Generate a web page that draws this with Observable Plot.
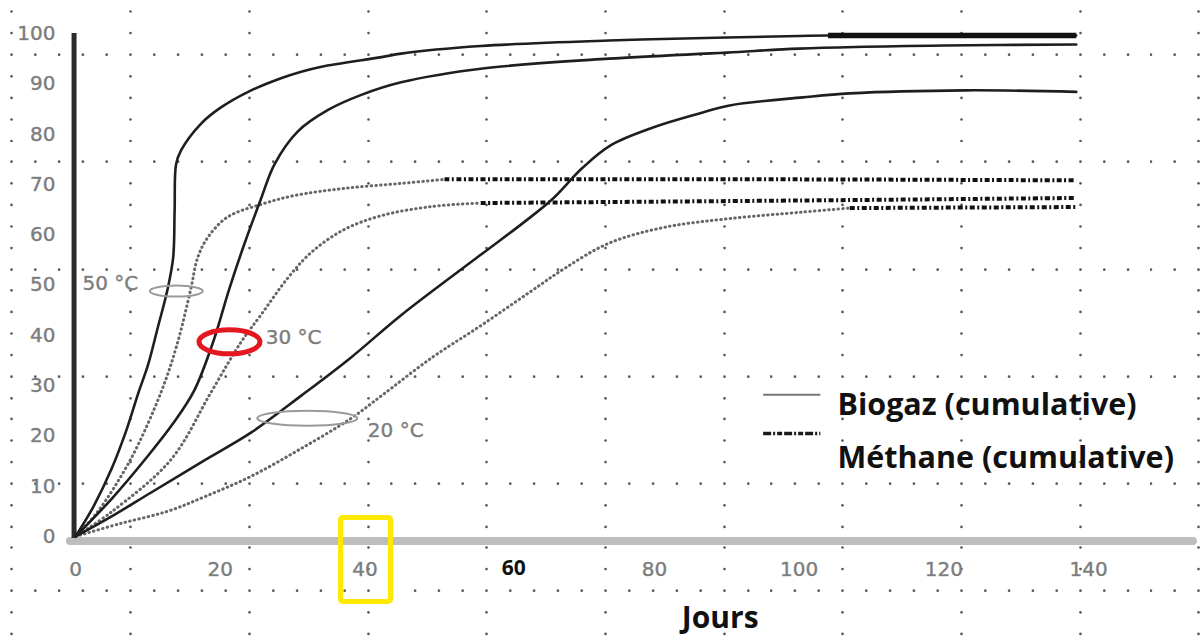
<!DOCTYPE html>
<html><head><meta charset="utf-8">
<script src="https://cdn.jsdelivr.net/npm/d3@7"></script>
<script src="https://cdn.jsdelivr.net/npm/@observablehq/plot@0.6"></script>
<style>
html,body{margin:0;padding:0;background:#fff;}
#chart{position:relative;width:1203px;height:637px;overflow:hidden;}
#chart svg{display:block;}
</style></head><body><div id="chart"></div>
<script>
// ---- data: [day, % of final volume] ----
const biogaz50 = [[0,0],[2.5,6],[5,13.5],[7,21],[8.7,28.6],[10,34],[11.4,41.7],[12.7,49],[13.5,55.5],[13.7,65],[13.9,74],[14.6,76.8],[17.3,82],[20,85.2],[24,88.5],[28.4,91.1],[31.2,92.4],[34,93.4],[42.3,95.3],[45,96],[56,97.5],[73.7,98.6],[90,99.2],[100,99.5],[104,99.6],[138.3,99.6]];
const biogaz30 = [[0,0],[5,7.5],[10,16],[13.5,22.5],[16.4,29],[19.1,39],[21.2,49],[23.3,58],[25.6,67],[27.5,74],[30.7,80.5],[34.9,84.8],[39.5,87.8],[45,90.3],[56,93],[73.7,95],[90,96.2],[100,97],[120,97.6],[138.3,97.8]];
const biogaz20 = [[0,0],[5,4],[10.4,8.7],[17.3,14.7],[24.3,20.7],[31.2,28],[38,35.5],[45,44],[56,56],[62,62.5],[66,67.2],[70,73.2],[74,77.8],[80,81.4],[86.2,84.1],[90.4,85.7],[100.5,87.3],[107,88.1],[123,88.7],[138.3,88.4]];
const methane50 = [[0,0],[3,4.8],[7.6,15.3],[11.8,28.6],[14,38],[15.9,49],[16.9,55.5],[18.3,59.5],[21,63.5],[25.6,66],[30.3,67.8],[37.1,69.2],[45,70.2],[51,71],[60,71],[100,71],[138.3,70.8]];
const methane30 = [[0,0],[4.9,4.8],[13.2,15.3],[18.7,28.6],[22.9,38.7],[25.6,44],[29.4,51.5],[32.6,56.5],[37.1,61],[42.3,63.8],[49.2,65.6],[56,66.3],[100,66.8],[138.3,67.3]];
const methane20 = [[0,0],[6,2.5],[12.7,5],[18,8],[24.3,12],[31.2,17.5],[38.1,23.5],[42.3,28],[49.2,35.5],[56.1,42],[63,48.8],[67.6,53.3],[73.7,58.3],[81.5,61.5],[90.4,63.2],[100.5,64.5],[107,65.3],[138.3,65.5]];
const methaneDashFrom = [51, 56, 107];   // day where each methane curve turns dash-dot (50, 30, 20 °C)
const xTicks = [0, 20, 40, 60, 80, 100, 120, 140];
const yTicks = [0, 10, 20, 30, 40, 50, 60, 70, 80, 90, 100];
const boldTick = 60;
const xTitle = "Jours";
const tempLabels = ["50 °C", "30 °C", "20 °C"];
const legendLabels = ["Biogaz (cumulative)", "Méthane (cumulative)"];

// ---- layout ----
const W = 1203, H = 637, pxPerDay = 7.236, mL = 75, mT = 33, mB = 101, xMax = 155;
const mR = W - (mL + xMax * pxPerDay);
const greyFont = {fontFamily: "DejaVu Sans", fontSize: 20, fill: "#7c7c7c", stroke: "#a0a0a0", strokeWidth: 0.5};
const boldFont = {fontFamily: "Open Sans", fontWeight: "bold", fill: "#111"};

// background dot grid (CSS decoration)
const tw = 118.7, th = 107.2, o = 1.5;
let circles = "";
for (let k = 0; k < 5; k++) circles += `<circle cx="${o}" cy="${o + k * th / 5}" r="1.35" fill="#5a5a5a"/>`;
for (let k = 1; k < 5; k++) circles += `<circle cx="${o + k * tw / 5}" cy="${o + 2 * th / 5}" r="1.35" fill="#5a5a5a"/>`;
const tile = `<svg xmlns="http://www.w3.org/2000/svg" width="${tw}" height="${th}" viewBox="0 0 ${tw} ${th}">${circles}</svg>`;
const host = document.getElementById("chart");
host.style.backgroundImage = `url("data:image/svg+xml;utf8,${encodeURIComponent(tile)}")`;
host.style.backgroundSize = `${tw}px ${th}px`;
host.style.backgroundPosition = `${12 - o}px ${12 - o}px`;

const X = d => d[0], Y = d => d[1];
const methanes = [methane50, methane30, methane20];
const dotted = methanes.map((m, i) => Plot.line(m.filter(d => d[0] <= methaneDashFrom[i]), {x: X, y: Y, curve: "catmull-rom", stroke: "#666", strokeWidth: 3, strokeDasharray: "0.5,4.2", strokeLinecap: "round"}));
const dashed = methanes.map((m, i) => Plot.line(m.filter(d => d[0] >= methaneDashFrom[i]), {x: X, y: Y, curve: "catmull-rom", stroke: "#111", strokeWidth: 4, strokeDasharray: "5,2.5,2,2.5", strokeLinecap: "butt"}));
const solid = [biogaz50, biogaz30, biogaz20].map(b => Plot.line(b, {x: X, y: Y, curve: "catmull-rom", stroke: "#1e1e1e", strokeWidth: 2.6}));

const chart = Plot.plot({
  width: W, height: H,
  marginLeft: mL, marginRight: mR, marginTop: mT, marginBottom: mB,
  x: {domain: [0, xMax], axis: null},
  y: {domain: [0, 100], axis: null},
  style: {background: "transparent", overflow: "visible"},
  marks: [
    Plot.ruleY([-0.9], {x1: () => -0.7, x2: () => 154.5, stroke: "#bdbdbd", strokeWidth: 8, strokeLinecap: "round"}),
    Plot.ruleX([-0.2], {y1: () => -0.4, y2: () => 100, stroke: "#2b2b2b", strokeWidth: 5}),
    ...dotted, ...dashed, ...solid,
    Plot.line(biogaz50.filter(d => d[0] >= 104), {x: X, y: Y, stroke: "#111", strokeWidth: 5.5, strokeLinecap: "butt"}),
    // tick labels
    Plot.text(yTicks, {y: d => d, frameAnchor: "left", dx: -20, textAnchor: "end", text: d => String(d), ...greyFont}),
    Plot.text(xTicks.filter(t => t !== boldTick), {x: d => d, frameAnchor: "bottom", dy: 39, text: d => String(d), ...greyFont}),
    Plot.text([boldTick], {x: d => d, frameAnchor: "bottom", dy: 38, dx: 4, text: d => String(d), fontSize: 21, ...boldFont}),
    Plot.text([xTitle], {x: () => 89.1, frameAnchor: "bottom", dy: 91, text: d => d, fontSize: 30, ...boldFont}),
    // temperature labels
    Plot.text([tempLabels[0]], {x: () => 0.97, y: () => 50.3, textAnchor: "start", text: d => d, ...greyFont}),
    Plot.text([tempLabels[1]], {x: () => 26.3, y: () => 39.6, textAnchor: "start", text: d => d, ...greyFont}),
    Plot.text([tempLabels[2]], {x: () => 40.4, y: () => 21.1, textAnchor: "start", text: d => d, ...greyFont}),
    // legend
    Plot.ruleY([28.2], {x1: () => 95.1, x2: () => 103, stroke: "#777", strokeWidth: 2}),
    Plot.ruleY([20.5], {x1: () => 95.1, x2: () => 103, stroke: "#1a1a1a", strokeWidth: 3.5, strokeDasharray: "8,2,2,2,5,2"}),
    Plot.text([legendLabels[0]], {x: () => 105.3, y: () => 26.0, textAnchor: "start", text: d => d, fontSize: 30.5, ...boldFont}),
    Plot.text([legendLabels[1]], {x: () => 105.3, y: () => 15.6, textAnchor: "start", text: d => d, fontSize: 30.5, ...boldFont}),
    // yellow highlight box around the 40 tick
    Plot.rect([0], {x1: () => 36.7, x2: () => 43.6, y1: () => 3.68, y2: () => -13, fill: "none", stroke: "#ffe900", strokeWidth: 5, rx: 2})
  ]
});
host.appendChild(chart);

// ellipses drawn through the plot's own scales
const sx = chart.scale("x"), sy = chart.scale("y");
const ellipses = [
  {x: 14.0, y: 48.7, rx: 26.5, ry: 5.5, stroke: "#9a9a9a", w: 2},
  {x: 32.1, y: 23.4, rx: 50, ry: 7.5, stroke: "#9a9a9a", w: 2},
  {x: 21.35, y: 38.6, rx: 30.5, ry: 12, stroke: "#e4161f", w: 5}
];
const svg = d3.select(chart);
for (const e of ellipses) {
  svg.append("ellipse").attr("cx", sx.apply(e.x)).attr("cy", sy.apply(e.y))
    .attr("rx", e.rx).attr("ry", e.ry).attr("fill", "none")
    .attr("stroke", e.stroke).attr("stroke-width", e.w);
}
</script></body></html>
